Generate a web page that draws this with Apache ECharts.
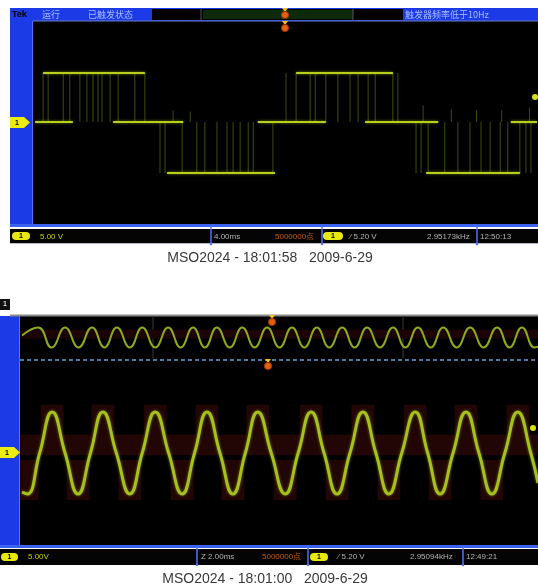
<!DOCTYPE html>
<html><head><meta charset="utf-8">
<script src="https://cdn.jsdelivr.net/npm/echarts@6/dist/echarts.min.js"></script>
<style>html,body{margin:0;padding:0;background:#fff}#c{width:538px;height:585px}</style>
</head><body><div id="c"></div>
<script>
// ===== DATA (all x in screen divisions, y in vertical divisions) =====
// Top screen: three-level PWM square wave
var sqZero = 0.04, sqHigh = 1.96, sqLow = -1.96;
// horizontal level segments [xStart, xEnd, level]
var sqLevelSegments = [
  [0.04, 0.79, 0.04],
  [0.20, 2.22, 1.96],
  [1.59, 2.98, 0.04],
  [2.66, 4.80, -1.96],
  [4.46, 5.81, 0.04],
  [5.22, 7.14, 1.96],
  [6.59, 8.04, 0.04],
  [7.80, 9.66, -1.96],
  [9.48, 10.0, 0.04]
];
// PWM edges in positive half (zero -> high)
var sqHighEdges = [0.20, 0.30, 0.60, 0.73, 0.93, 1.07, 1.19, 1.29, 1.37, 1.53, 1.69, 2.02, 2.22,
                   5.02, 5.22, 5.50, 5.60, 5.81, 6.05, 6.29, 6.45, 6.65, 6.79, 7.14, 7.24];
// PWM edges in negative half (zero -> low)
var sqLowEdges = [2.52, 2.62, 2.96, 3.25, 3.41, 3.65, 3.85, 3.97, 4.11, 4.27, 4.37, 4.76,
                  7.60, 7.70, 7.84, 8.17, 8.43, 8.67, 8.89, 9.07, 9.27, 9.42, 9.66, 9.78, 9.88];
// small glitches above zero [x, top]
var sqSmallSpikes = [[2.78, 0.50], [3.12, 0.45], [7.74, 0.70], [8.30, 0.55], [8.80, 0.50], [9.30, 0.50], [9.85, 0.60]];

// Bottom screen, zoom window sine: [x, y]
var zoomWave = [
  [0.04,-1.70],[0.14,-1.78],[0.38,0],[0.62,1.78],[0.87,0],[1.12,-1.78],[1.36,0],[1.60,1.78],[1.86,0],
  [2.12,-1.78],[2.36,0],[2.61,1.78],[2.87,0],[3.13,-1.78],[3.37,0],[3.61,1.78],[3.86,0],[4.11,-1.78],
  [4.35,0],[4.59,1.78],[4.85,0],[5.12,-1.78],[5.37,0],[5.62,1.78],[5.87,0],[6.12,-1.78],[6.37,0],
  [6.62,1.78],[6.87,0],[7.12,-1.78],[7.37,0],[7.63,1.78],[7.87,0],[8.11,-1.78],[8.36,0],[8.61,1.78],
  [8.86,0],[9.11,-1.78],[9.36,0],[9.61,1.78],[9.86,0],[10.0,-1.30]
];
// Bottom screen, overview sine: [x, y]
var overviewWave = [
  [0.04,0.40],[0.35,1.95],[0.61,-1.95],[0.87,1.95],[1.13,-1.95],[1.39,1.95],[1.63,-1.95],[1.87,1.95],
  [2.12,-1.95],[2.36,1.95],[2.61,-1.95],[2.86,1.95],[3.10,-1.95],[3.34,1.95],[3.57,-1.95],[3.80,1.95],
  [4.05,-1.95],[4.29,1.95],[4.53,-1.95],[4.77,1.95],[5.01,-1.95],[5.25,1.95],[5.49,-1.95],[5.73,1.95],
  [5.97,-1.95],[6.22,1.95],[6.46,-1.95],[6.70,1.95],[6.95,-1.95],[7.20,1.95],[7.44,-1.95],[7.68,1.95],
  [7.93,-1.95],[8.17,1.95],[8.43,-1.95],[8.69,1.95],[8.95,-1.95],[9.21,1.95],[9.45,-1.95],[9.69,1.95],
  [9.93,-1.95],[10.0,-1.80]
];
// dark red ghost trace blocks in zoom window
var ghostHighX = [0.62,1.60,2.61,3.61,4.59,5.62,6.62,7.63,8.61,9.61];
var ghostLowX  = [0.14,1.12,2.12,3.13,4.11,5.12,6.12,7.12,8.11,9.11];
var ghostBand = [[0, 10, 0.80, -0.10]];
var overviewGhostBand = [[0, 10, 1.50, -0.20]];

// ===== build =====
var chart = echarts.init(document.getElementById('c'), null, {renderer:'canvas'});
var ghostHalfW = 0.22;
var ghostRects = [];
ghostHighX.forEach(function(x){ ghostRects.push([x-ghostHalfW, x+ghostHalfW, 2.10, 0.30]); });
ghostLowX.forEach(function(x){ ghostRects.push([x-ghostHalfW, x+ghostHalfW, -0.30, -2.05]); });
ghostBand.forEach(function(r){ ghostRects.push(r); });

var hSegs = sqLevelSegments;
var vSegs = [];
sqHighEdges.forEach(function(x){ vSegs.push([x, sqZero, sqHigh]); });
sqLowEdges.forEach(function(x){ vSegs.push([x, sqZero, sqLow]); });
sqSmallSpikes.forEach(function(s){ vSegs.push([s[0], sqZero, s[1]]); });

function hSeries(data, gi, color, w, z){
  return {type:'custom', xAxisIndex:gi, yAxisIndex:gi, z:z, silent:true, clip:true, data:data,
    renderItem:function(p, api){
      var a = api.coord([api.value(0), api.value(2)]);
      var b = api.coord([api.value(1), api.value(2)]);
      return {type:'line', shape:{x1:a[0],y1:a[1],x2:b[0],y2:b[1]},
        style:{stroke:color, lineWidth:w, shadowBlur:3, shadowColor:'rgba(180,210,30,0.6)'}};
    }};
}
function vSeries(data, gi, color, w, z){
  return {type:'custom', xAxisIndex:gi, yAxisIndex:gi, z:z, silent:true, clip:true, data:data,
    renderItem:function(p, api){
      var a = api.coord([api.value(0), api.value(1)]);
      var b = api.coord([api.value(0), api.value(2)]);
      return {type:'line', shape:{x1:a[0],y1:a[1],x2:b[0],y2:b[1]},
        style:{stroke:color, lineWidth:w}};
    }};
}
function rectSeries(data, gi, color, z){
  return {type:'custom', xAxisIndex:gi, yAxisIndex:gi, z:z, silent:true, clip:true, data:data,
    renderItem:function(p, api){
      var a = api.coord([api.value(0), api.value(2)]);
      var b = api.coord([api.value(1), api.value(3)]);
      var left = Math.max(a[0], p.coordSys.x), right = Math.min(b[0], p.coordSys.x + p.coordSys.width);
      return {type:'rect', shape:{x:left, y:a[1], width:right-left, height:b[1]-a[1]}, style:{fill:color}};
    }};
}

// ===== graphics (frames, status bars, texts) =====
var G = [];
function R(x,y,w,h,fill,z,r,stroke){G.push({type:'rect',silent:true,z:z||0,shape:{x:x,y:y,width:w,height:h,r:r||0},style:{fill:fill,stroke:stroke||null,lineWidth:stroke?1:0}});}
function L(x1,y1,x2,y2,stroke,w,z,dash){G.push({type:'line',silent:true,z:z||1,shape:{x1:x1,y1:y1,x2:x2,y2:y2},style:{stroke:stroke,lineWidth:w,lineDash:dash||null}});}
function T(x,y,text,fill,font,align,z){G.push({type:'text',silent:true,z:z||6,x:x,y:y,style:{text:text,fill:fill,font:font,textAlign:align||'left',textVerticalAlign:'middle',align:align||'left',verticalAlign:'middle'}});}
function C(cx,cy,r,fill,z,stroke){G.push({type:'circle',silent:true,z:z||10,shape:{cx:cx,cy:cy,r:r},style:{fill:fill,stroke:stroke||null,lineWidth:stroke?1:0}});}
function P(pts,fill,z){G.push({type:'polygon',silent:true,z:z||10,shape:{points:pts},style:{fill:fill}});}
function pill(x,y,w,h){R(x,y,w,h,'#e8e80c',8,4); T(x+w/2,y+h/2+0.5,'1','#000','bold 7px Liberation Sans','center',9);}
function trig(cx,cy){P([[cx-3,cy-7],[cx+3,cy-7],[cx,cy-3]],'#f2c21a',10); C(cx,cy,3.6,'#e2600e',10,'#a03000');}
function chMarker(x,y){P([[x,y-5.5],[x+14,y-5.5],[x+20,y],[x+14,y+5.5],[x,y+5.5]],'#ecec10',10); T(x+7,y+0.5,'1','#000','bold 7px Liberation Sans','center',11);}

var BLUE = '#1c3ae6', LBLUE = '#4f72ff', SF = '8px Liberation Sans', CJK = '9px "Noto Sans CJK SC"';

// ---- top scope ----
R(10,8,528,218,BLUE,0);
R(33,21,505,204,'#000',0);
L(33,21,538,21,'#6a80c8',1,1);
L(32.5,21,32.5,225,LBLUE,1,1);
R(152,9,251,11,'#000',1);
R(203,10,150,9,'#0d2a0b',1);
L(201,9,201,20,'#555',1,2); L(353,9,353,20,'#555',1,2);
T(12,14.5,'Tek','#000','bold 9px Liberation Sans','left');
T(42,14.5,'运行','#aabdff',CJK,'left');
T(88,14.5,'已触发状态','#aabdff',CJK,'left');
T(405,14.5,'触发器频率低于10Hz','#aabdff',CJK,'left');
trig(285,15); trig(285,28);
R(10,224,528,3,'#3b63f0',1);
R(10,229,528,14,'#040404',1);
L(10,243.5,538,243.5,'#b8bcc8',1,1);
[211,322,477].forEach(function(x){ L(x,225,x,244,LBLUE,1.5,3); C(x,244,1.3,LBLUE,3); });
pill(12,232,18,8);
T(40,236.5,'5.00 V','#c8d000',SF);
T(214,236.5,'4.00ms','#b4b4b4',SF);
T(275,236.5,'5000000点','#c85a00',SF);
pill(323,232,20,8);
T(350,236.5,'⁄ 5.20 V','#b4b4b4',SF);
T(427,236.5,'2.95173kHz','#b4b4b4',SF);
T(480,236.5,'12:50:13','#b4b4b4',SF);
chMarker(10,122.5);
C(535,97,3,'#d8e010',10);
T(270,258,'MSO2024 - 18:01:58   2009-6-29','#3a3a3a','14px Liberation Sans','center');

// ---- bottom scope ----
R(0,299,10,11,'#111',2); T(5,304.5,'1','#ddd','bold 7px Liberation Sans','center');
L(10,315.5,538,315.5,'#8a8a8a',2,1);
R(0,316,20,230,BLUE,0);
L(19.5,316,19.5,546,LBLUE,1,1);
R(20,316,518,43,'#000',0);
R(20,361,518,184,'#000',0);
R(20,359,518,2,'#000',0);
L(20,360,538,360,'#3f7da6',2,2,[4,3]);
L(153,316,153,358,'#3a3a3a',1,1); L(403,316,403,358,'#3a3a3a',1,1);
trig(272,322); trig(268,366);
R(0,545,538,3,'#3b63f0',1);
R(0,549,538,16,'#040404',1);
[197,308,463].forEach(function(x){ L(x,546,x,565,LBLUE,1.5,3); C(x,565,1.3,LBLUE,3); });
pill(1,553,17,8);
T(28,557,'5.00V','#c8d000',SF);
T(201,557,'Z 2.00ms','#b4b4b4',SF);
T(262,557,'5000000点','#c85a00',SF);
pill(310,553,18,8);
T(338,557,'⁄ 5.20 V','#b4b4b4',SF);
T(410,557,'2.95094kHz','#b4b4b4',SF);
T(466,557,'12:49:21','#b4b4b4',SF);
chMarker(0,452.5);
C(533,428,3,'#d8e010',10);
T(265,579,'MSO2024 - 18:01:00   2009-6-29','#3a3a3a','14px Liberation Sans','center');

var ax = function(gi, min, max){ return {gridIndex:gi, type:'value', min:min, max:max, show:false}; };

chart.setOption({
  backgroundColor:'#ffffff',
  animation:false,
  grid:[
    {left:33, top:21, width:504, height:204},
    {left:20, top:317, width:518, height:41},
    {left:20, top:361, width:518, height:184}
  ],
  xAxis:[ax(0,0,10), ax(1,0,10), ax(2,0,10)],
  yAxis:[ax(0,-4,4), ax(1,-4,4), ax(2,-4,4)],
  graphic:{elements:G},
  series:[
    vSeries(vSegs, 0, 'rgba(100,130,14,0.6)', 1, 3),
    hSeries(hSegs, 0, '#b8cf1e', 2, 4),
    rectSeries(overviewGhostBand, 1, '#1c0404', 1),
    {type:'line', xAxisIndex:1, yAxisIndex:1, data:overviewWave, smooth:true, symbol:'none', z:3,
      lineStyle:{color:'#8fab18', width:2}},
    rectSeries(ghostRects, 2, '#220505', 1),
    {type:'line', xAxisIndex:2, yAxisIndex:2, data:zoomWave, smooth:true, symbol:'none', z:3,
      lineStyle:{color:'#a6c01c', width:3, shadowBlur:3, shadowColor:'rgba(170,200,20,0.6)'}}
  ]
});
</script></body></html>
